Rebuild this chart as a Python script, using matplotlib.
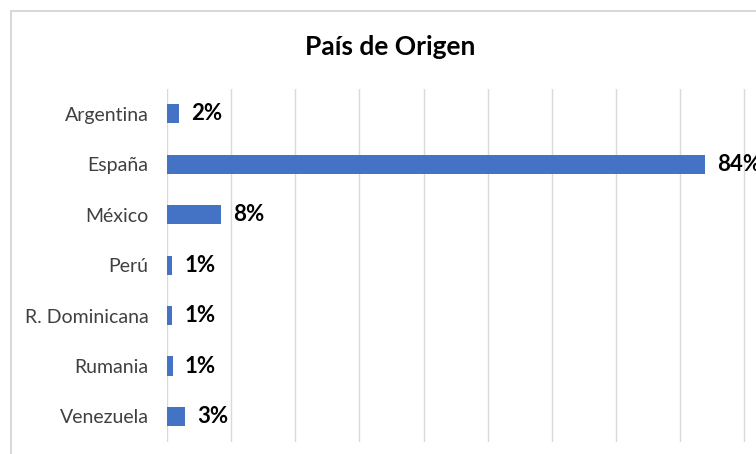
import numpy as np
import matplotlib.pyplot as plt
from matplotlib.patches import Rectangle

plt.rcParams['font.family'] = ['Lato', 'DejaVu Sans']

paises = ['Argentina', 'España', 'México', 'Perú', 'R. Dominicana', 'Rumania', 'Venezuela']
porcentajes = [1.9, 84.0, 8.4, 0.8, 0.8, 0.9, 2.8]
etiquetas = ['2%', '84%', '8%', '1%', '1%', '1%', '3%']

fig = plt.figure(figsize=(7.56, 4.54), dpi=100)
# chart frame (cropped on the right/bottom)
fig.patches.append(Rectangle((11/756, -0.1), 1.0, (454-11)/454 + 0.1, transform=fig.transFigure,
                             fill=False, edgecolor='#d9d9d9', linewidth=1.5))

ax = fig.add_axes([167.3/756, 12.3/454, 640.5/756, 353/454])
y = np.arange(len(paises))
ax.barh(y, porcentajes, height=0.38, color='#4472C4', zorder=3)
ax.set_xlim(0, 100)
ax.set_ylim(len(paises) - 0.5, -0.5)
ax.set_xticks(np.arange(0, 101, 10))
ax.set_xticklabels([])
ax.tick_params(axis='x', length=0)
ax.tick_params(axis='y', length=0, pad=13.5, labelsize=14, labelcolor='#404040')
ax.set_yticks(y)
ax.set_yticklabels(paises)
ax.grid(axis='x', color='#d9d9d9', linewidth=1, zorder=0)
for s in ax.spines.values():
    s.set_visible(False)

for yi, v, t in zip(y, porcentajes, etiquetas):
    ax.annotate(t, (v, yi), xytext=(8.5, 0), textcoords='offset points',
                va='center', ha='left', fontsize=16, fontweight='bold', color='black')

fig.text(390/756, 1 - 47/454, 'País de Origen', ha='center', va='center',
         fontsize=19, fontweight='bold', color='black')

fig.savefig('out.png', dpi=100)
